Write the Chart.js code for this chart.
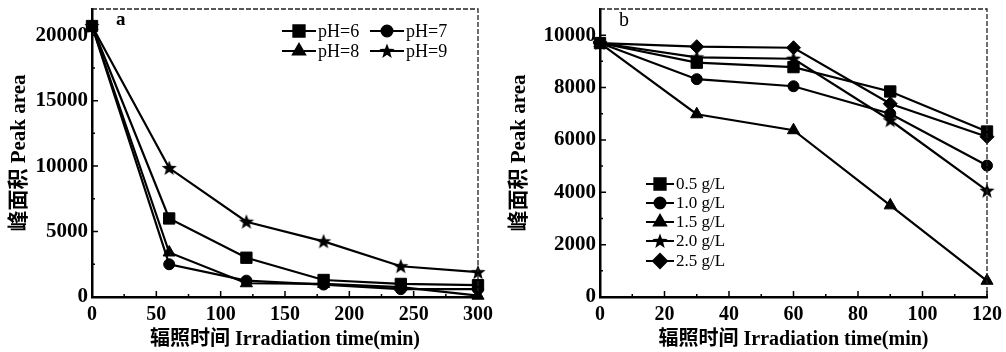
<!DOCTYPE html>
<html>
<head>
<meta charset="utf-8">
<script src="https://cdn.jsdelivr.net/npm/chart.js@4.4.0/dist/chart.umd.min.js"></script>
<style>
  html, body { margin: 0; padding: 0; background: #fff; }
  #wrap { position: relative; width: 1006px; height: 352px; }
  .pane { position: absolute; top: 0; height: 352px; }
</style>
</head>
<body>
<div id="wrap">
  <div class="pane" style="left:0;width:500px"><canvas id="ca"></canvas></div>
  <div class="pane" style="left:500px;width:506px"><canvas id="cb"></canvas></div>
</div>
<script>
// ---- panel a : pH effect ----
const timeA = [0, 60, 120, 180, 240, 300];
const pH6 = [20700, 6000, 3000, 1300, 1000, 900];
const pH7 = [20700, 2500, 1250, 950, 600, 600];
const pH8 = [20700, 3400, 1050, 1000, 750, 100];
const pH9 = [20700, 9850, 5750, 4250, 2350, 1900];
const xTicksA = [0, 50, 100, 150, 200, 250, 300];
const yTicksA = [0, 5000, 10000, 15000, 20000];

// ---- panel b : catalyst dosage ----
const timeB = [0, 30, 60, 90, 120];
const dose05 = [9700, 8950, 8780, 7850, 6320];
const dose10 = [9700, 8320, 8050, 7000, 5020];
const dose15 = [9700, 6980, 6370, 3500, 620];
const dose20 = [9700, 9150, 9100, 6750, 4060];
const dose25 = [9700, 9560, 9520, 7380, 6120];
const xTicksB = [0, 20, 40, 60, 80, 100, 120];
const yTicksB = [0, 2000, 4000, 6000, 8000, 10000];

const yTitle = "峰面积 Peak area";
const xTitle = "辐照时间 Irradiation time(min)";
const FAM = '"Liberation Serif", "Times New Roman", "Noto Sans CJK SC", serif';

// filled five-point star, chart.js "star" is only an asterisk
function starImage(r){
  const c = document.createElement("canvas");
  const s = Math.ceil(r * 2 + 2);
  c.width = s; c.height = s;
  const g = c.getContext("2d");
  g.translate(s / 2, s / 2 + 0.5);
  g.beginPath();
  for (let i = 0; i < 10; i++){
    const rad = i % 2 ? r * 0.42 : r;
    const a = -Math.PI / 2 + i * Math.PI / 5;
    g.lineTo(rad * Math.cos(a), rad * Math.sin(a));
  }
  g.closePath();
  g.fillStyle = "#000";
  g.fill();
  return c;
}
const STAR = starImage(8);

const mk = (label, xs, ys, style, r) => ({
  label,
  data: xs.map((x, i) => ({ x, y: ys[i] })),
  borderColor: "#000",
  backgroundColor: "#000",
  borderWidth: 2.2,
  pointStyle: style,
  pointRadius: r,
  pointBorderWidth: 1,
  pointHoverRadius: r,
  clip: false,
  tension: 0
});

// frame, inward ticks, panel letter and legend
const decor = {
  id: "decor",
  afterDraw(chart, args, o){
    const { ctx, chartArea: ca, scales } = chart;
    ctx.save();
    // dashed top and right border
    ctx.strokeStyle = "#222";
    ctx.lineWidth = 1.3;
    ctx.setLineDash([5, 2]);
    ctx.beginPath();
    ctx.moveTo(ca.left, ca.top);
    ctx.lineTo(ca.right, ca.top);
    ctx.lineTo(ca.right, ca.bottom);
    ctx.stroke();
    ctx.setLineDash([]);

    // inward ticks
    ctx.lineWidth = 1.5;
    ctx.strokeStyle = "#000";
    const tx = o.xTicks, ty = o.yTicks;
    ctx.beginPath();
    tx.forEach((v, i) => {
      const p = scales.x.getPixelForValue(v);
      ctx.moveTo(p, ca.bottom); ctx.lineTo(p, ca.bottom - 6);
      if (i < tx.length - 1){
        const m = scales.x.getPixelForValue((v + tx[i + 1]) / 2);
        ctx.moveTo(m, ca.bottom); ctx.lineTo(m, ca.bottom - 3);
      }
    });
    ty.forEach((v, i) => {
      const p = scales.y.getPixelForValue(v);
      ctx.moveTo(ca.left, p); ctx.lineTo(ca.left + 6, p);
      const nx = i < ty.length - 1 ? ty[i + 1] : v + (v - ty[i - 1]);
      const m = scales.y.getPixelForValue((v + nx) / 2);
      if (m > ca.top){ ctx.moveTo(ca.left, m); ctx.lineTo(ca.left + 3, m); }
    });
    ctx.stroke();

    // panel letter
    ctx.fillStyle = "#000";
    ctx.font = o.letterFont;
    ctx.textBaseline = "middle";
    ctx.textAlign = "left";
    ctx.fillText(o.letter, o.letterX, o.letterY);

    // legend
    ctx.font = o.legendFont;
    o.legend.forEach(it => {
      const ds = chart.data.datasets[it.i];
      ctx.strokeStyle = "#000";
      ctx.fillStyle = "#000";
      ctx.lineWidth = 2;
      ctx.beginPath();
      ctx.moveTo(it.x - it.half, it.y); ctx.lineTo(it.x + it.half, it.y);
      ctx.stroke();
      Chart.helpers.drawPoint(ctx, {
        pointStyle: ds.pointStyle, radius: ds.pointRadius, rotation: 0, borderWidth: 1
      }, it.x, it.y);
      ctx.fillStyle = "#000";
      ctx.fillText(ds.label, it.x + it.half + 2, it.y + 1);
    });
    ctx.restore();
  }
};

const noPad = s => { s.paddingTop = 0; s.paddingBottom = 0; s.paddingLeft = 0; s.paddingRight = 0; };

function axes(xmin, xmax, ymax, xt, yt, yw){
  return {
    x: {
      type: "linear", min: xmin, max: xmax,
      afterBuildTicks: s => { s.ticks = xt.map(v => ({ value: v })); },
      afterFit: s => { s.height = 55; noPad(s); },
      grid: { display: false, drawTicks: false },
      border: { display: true, color: "#000", width: 2.5 },
      ticks: { color: "#000", padding: 6, maxRotation: 0, callback: v => String(v),
               font: { family: FAM, size: 20, weight: "bold" } },
      title: { display: true, text: xTitle, color: "#000", padding: { top: 0, bottom: 0 },
               font: { family: FAM, size: 20, weight: "bold" } }
    },
    y: {
      type: "linear", min: 0, max: ymax,
      afterBuildTicks: s => { s.ticks = yt.map(v => ({ value: v })); },
      afterFit: s => { s.width = yw; noPad(s); },
      grid: { display: false, drawTicks: false },
      border: { display: true, color: "#000", width: 2.5 },
      ticks: { color: "#000", padding: 4, callback: v => String(v),
               font: { family: FAM, size: 21, weight: "bold" } },
      title: { display: true, text: yTitle, color: "#000", padding: { top: 7, bottom: 0 },
               font: { family: FAM, size: 21, weight: "bold" } }
    }
  };
}

new Chart(document.getElementById("ca"), {
  type: "line",
  data: {
    datasets: [
      mk("pH=6", timeA, pH6, "rect", 8),
      mk("pH=7", timeA, pH7, "circle", 5.5),
      mk("pH=8", timeA, pH8, "triangle", 7),
      mk("pH=9", timeA, pH9, STAR, 8)
    ]
  },
  options: {
    responsive: true, maintainAspectRatio: false, animation: false,
    layout: { padding: { left: 0, right: 22, top: 5, bottom: 0 } },
    scales: axes(0, 300, 22000, xTicksA, yTicksA, 92),
    plugins: {
      legend: { display: false }, tooltip: { enabled: false },
      decor: {
        xTicks: xTicksA, yTicks: yTicksA,
        letter: "a", letterX: 116, letterY: 20, letterFont: "bold 19px " + FAM,
        legendFont: "18px " + FAM,
        legend: [
          { i: 0, x: 299, y: 31, half: 17 },
          { i: 1, x: 387, y: 31, half: 17 },
          { i: 2, x: 299, y: 51, half: 17 },
          { i: 3, x: 387, y: 51, half: 17 }
        ]
      }
    }
  },
  plugins: [decor]
});

new Chart(document.getElementById("cb"), {
  type: "line",
  data: {
    datasets: [
      mk("0.5 g/L", timeB, dose05, "rect", 8),
      mk("1.0 g/L", timeB, dose10, "circle", 5.5),
      mk("1.5 g/L", timeB, dose15, "triangle", 7),
      mk("2.0 g/L", timeB, dose20, STAR, 8),
      mk("2.5 g/L", timeB, dose25, "rectRot", 7)
    ]
  },
  options: {
    responsive: true, maintainAspectRatio: false, animation: false,
    layout: { padding: { left: 0, right: 19, top: 5, bottom: 0 } },
    scales: axes(0, 120, 11000, xTicksB, yTicksB, 100),
    plugins: {
      legend: { display: false }, tooltip: { enabled: false },
      decor: {
        xTicks: xTicksB, yTicks: yTicksB,
        letter: "b", letterX: 119, letterY: 21, letterFont: "20px " + FAM,
        legendFont: "17px " + FAM,
        legend: [
          { i: 0, x: 160, y: 184, half: 14 },
          { i: 1, x: 160, y: 203, half: 14 },
          { i: 2, x: 160, y: 222, half: 14 },
          { i: 3, x: 160, y: 241, half: 14 },
          { i: 4, x: 160, y: 261, half: 14 }
        ]
      }
    }
  },
  plugins: [decor]
});
</script>
</body>
</html>
